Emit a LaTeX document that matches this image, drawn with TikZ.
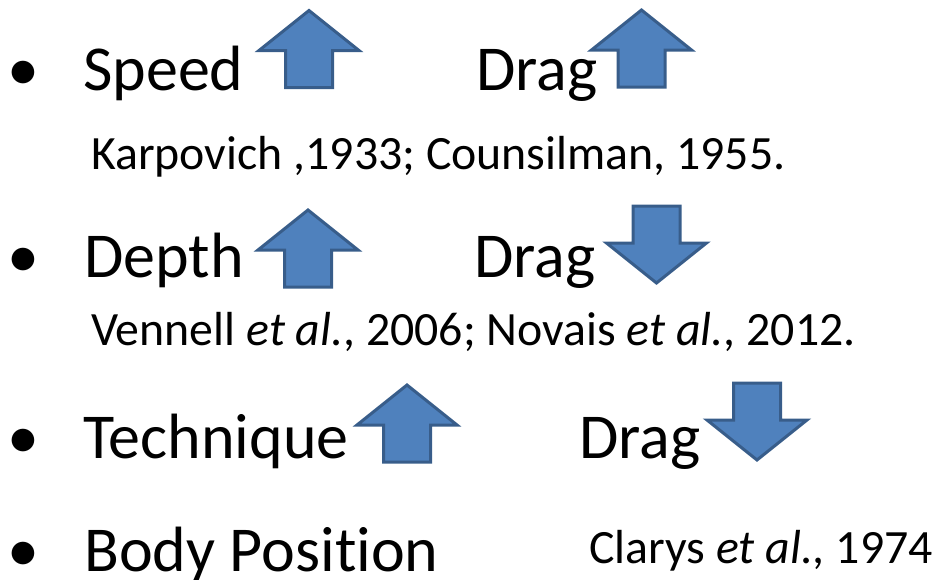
\documentclass[tikz,border=0pt]{standalone}
\usepackage{fontspec}
\setmainfont{Carlito}[Ligatures=NoCommon]
\usepackage{tikz}

\definecolor{arrowfill}{HTML}{4F81BD}
\definecolor{arrowline}{HTML}{385D8A}

\tikzset{
  bigtext/.style={anchor=base west,inner sep=0pt,font=\fontsize{64}{70}\selectfont},
  smalltext/.style={anchor=base west,inner sep=0pt,font=\fontsize{47.8}{52}\selectfont},
  blockarrow/.style={fill=arrowfill,draw=arrowline,line width=3pt,line join=miter},
  uparr/.pic={
    \draw[blockarrow] (0,0) -- (50,40) -- (23.5,40) -- (23.5,77)
      -- (-23.5,77) -- (-23.5,40) -- (-50,40) -- cycle;
  }
}

\begin{document}
\begin{tikzpicture}[x=1pt,y=-1pt]
   \useasboundingbox (0,0) rectangle (938,579);
   % bullets
   \foreach \y/\n in {90/b1,277/b2,458/b3,571/b4}
      \node[bigtext] (\n) at (7,\y) {\textbullet};
   % first row
   \node[bigtext] (speed) at (83,90) {Speed};
   \node[bigtext] (drag1) at (476,90) {Drag};
   \node[smalltext] (ref1) at (91,169) {Karpovich ,1933; Counsilman, 1955.};
   % second row
   \node[bigtext] (depth) at (84,277) {Depth};
   \node[bigtext] (drag2) at (474,277) {Drag};
   \node[smalltext] (ref2) at (91,345) {Vennell \textit{et al.}, 2006; Novais \textit{et al.}, 2012.};
   % third row
   \node[bigtext] (tech) at (83,458) {Technique};
   \node[bigtext] (drag3) at (579,458) {Drag};
   % fourth row
   \node[bigtext] (body) at (84,571) {Body Position};
   \node[smalltext] (ref3) at (589,563) {Clarys \textit{et al.,} 1974};
   % arrows
   \pic at (309,10.5) {uparr};
   \pic at (641.5,10) {uparr};
   \pic at (308,210) {uparr};
   \pic[rotate=180] at (656.5,283) {uparr};
   \pic at (407,385) {uparr};
   \pic[rotate=180] at (757,460) {uparr};
\end{tikzpicture}
\end{document}
